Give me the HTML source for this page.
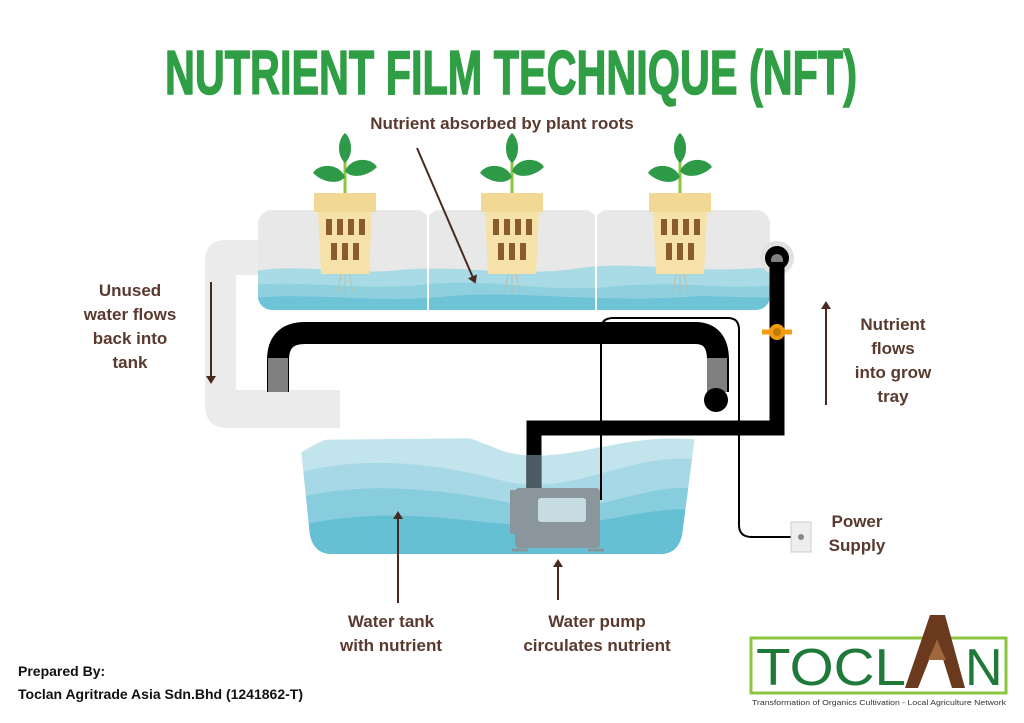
<!DOCTYPE html>
<html><head><meta charset="utf-8"><style>
html,body{margin:0;padding:0;background:#fff;width:1024px;height:723px;overflow:hidden}
svg{display:block}
.t{font-family:"Liberation Sans",sans-serif;font-weight:bold;fill:#5a3a2e;font-size:17px}
</style></head><body>
<svg width="1024" height="723" viewBox="0 0 1024 723" xmlns="http://www.w3.org/2000/svg">
<defs>
<marker id="ah" markerWidth="8" markerHeight="10" refX="4" refY="5" orient="auto" markerUnits="userSpaceOnUse" viewBox="0 0 8 10"><path d="M0,0 L8,5 L0,10 Z" fill="#4a2a20"/></marker>
<g id="pot">
 <path d="M0,-40 L0,0" stroke="#8cc63f" stroke-width="3"/>
 <path d="M0,-16 C-6,-30 -26,-30 -32,-20 C-22,-10 -6,-8 0,-16Z" fill="#2e9a48"/>
 <path d="M0,-22 C6,-36 26,-36 32,-26 C22,-16 6,-14 0,-22Z" fill="#2e9a48"/>
 <path d="M0,-30 C-9,-38 -7,-54 0,-60 C7,-54 9,-38 0,-30Z" fill="#2e9a48"/>
 <path d="M-31,0 h62 v19 h-62z" fill="#f1d894"/>
 <path d="M-27,19 h54 l-3,62 h-48z" fill="#f6e2a8"/>
 <g fill="#8b5a2e">
  <rect x="-19" y="26" width="6" height="16"/><rect x="-8" y="26" width="6" height="16"/><rect x="3" y="26" width="6" height="16"/><rect x="14" y="26" width="6" height="16"/>
  <rect x="-14" y="50" width="6" height="17"/><rect x="-3" y="50" width="6" height="17"/><rect x="8" y="50" width="6" height="17"/>
 </g>
 <path d="M-4,81 l-3,18 M0,81 l0,20 M4,81 l4,18" stroke="#c8b48a" stroke-width="1" opacity=".7"/>
</g>
</defs>
<text x="511" y="94" text-anchor="middle" font-family="'Liberation Sans Narrow','Liberation Sans',sans-serif" font-weight="bold" font-size="62" fill="#2f9e44" stroke="#2f9e44" stroke-width="1.5" textLength="692" lengthAdjust="spacingAndGlyphs">NUTRIENT FILM TECHNIQUE (NFT)</text>
<text x="502" y="129" text-anchor="middle" class="t" font-size="17">Nutrient absorbed by plant roots</text>

<path d="M270,240 H225 Q205,240 205,262 V405 Q205,428 228,428 H340 V390 H236 V275 H270Z" fill="#ebebeb"/>
<g>
 <rect x="258" y="210" width="172" height="100" rx="14" fill="#e8e8e8"/>
 <rect x="426" y="210" width="172" height="100" rx="14" fill="#e8e8e8"/>
 <rect x="594" y="210" width="176" height="100" rx="14" fill="#e8e8e8"/>
 <clipPath id="trc"><rect x="258" y="210" width="512" height="100" rx="14"/></clipPath>
 <g clip-path="url(#trc)">
  <path d="M250,272 C300,262 340,276 400,270 C460,264 520,278 580,268 C640,260 700,276 780,266 V312 H250Z" fill="#a9dbe6"/>
  <path d="M250,285 C320,280 360,292 430,284 C500,278 540,294 620,286 C690,280 730,292 780,284 V312 H250Z" fill="#8fd0df"/>
  <path d="M250,298 C320,292 380,304 450,296 C520,290 600,304 700,296 L780,298 V312 H250Z" fill="#6fc3d6"/>
 </g>
 <path d="M428,210 V310 M596,210 V310" stroke="#fff" stroke-width="2"/>
</g>
<use href="#pot" x="345" y="193"/>
<use href="#pot" x="512" y="193"/>
<use href="#pot" x="680" y="193"/>
<line x1="417" y1="148" x2="474" y2="280" stroke="#4a2a20" stroke-width="2" marker-end="url(#ah)"/>

<clipPath id="tk"><path d="M300,440 L695,436 L682,535 Q678,554 660,554 H332 Q314,554 310,535Z"/></clipPath>
<g clip-path="url(#tk)">
 <path d="M290,460 C360,410 430,420 500,450 C560,470 620,430 700,440 V560 H290Z" fill="#c2e4ec"/>
 <path d="M290,475 C360,455 430,462 500,480 C570,500 630,450 700,460 V560 H290Z" fill="#a6d9e5"/>
 <path d="M290,500 C360,480 440,488 520,505 C600,520 650,478 700,490 V560 H290Z" fill="#87cddd"/>
 <path d="M290,528 C380,505 450,520 520,525 C600,530 640,505 700,510 V560 H290Z" fill="#66c0d4"/>
</g>

<path d="M278,392 V360 Q278,333 305,333 H695 Q718,333 718,360 V392" fill="none" stroke="#000" stroke-width="22"/>
<rect x="268" y="358" width="20" height="34" fill="#808080"/>
<rect x="707" y="358" width="20" height="34" fill="#808080"/>
<circle cx="716" cy="400" r="12" fill="#000"/>
<circle cx="777" cy="258" r="17" fill="#e2e2e2"/>
<circle cx="777" cy="258" r="12" fill="#000"/>
<circle cx="777" cy="260" r="6" fill="#808080"/>
<path d="M777,262 V428 H534 V495" fill="none" stroke="#000" stroke-width="15"/>
<path d="M762,332 H792" stroke="#f39c12" stroke-width="5"/>
<circle cx="777" cy="332" r="8" fill="#f39c12"/><circle cx="777" cy="332" r="4" fill="#c47a00"/>
<rect x="527" y="455" width="15" height="40" fill="#7f9aa3" opacity=".6"/>
<path d="M601,500 V330 Q601,318 613,318 H728 Q739,318 739,330 V525 Q739,537 752,537 H795" fill="none" stroke="#000" stroke-width="2"/>
<rect x="510" y="490" width="18" height="44" fill="#8a969c"/>
<rect x="515" y="488" width="85" height="60" rx="4" fill="#8a969c"/>
<rect x="538" y="498" width="48" height="24" rx="3" fill="#c7dce2"/>
<path d="M512,550 h16 M588,550 h16" stroke="#8a969c" stroke-width="3"/>
<rect x="791" y="522" width="20" height="30" fill="#eee" stroke="#ccc"/>
<circle cx="801" cy="537" r="3" fill="#888"/>

<line x1="211" y1="282" x2="211" y2="380" stroke="#4a2a20" stroke-width="2" marker-end="url(#ah)"/>
<line x1="826" y1="405" x2="826" y2="305" stroke="#4a2a20" stroke-width="2" marker-end="url(#ah)"/>
<line x1="398" y1="603" x2="398" y2="515" stroke="#4a2a20" stroke-width="2" marker-end="url(#ah)"/>
<line x1="558" y1="600" x2="558" y2="563" stroke="#4a2a20" stroke-width="2" marker-end="url(#ah)"/>

<g class="t" text-anchor="middle">
 <text x="130" y="296">Unused</text><text x="130" y="320">water flows</text><text x="130" y="344">back into</text><text x="130" y="368">tank</text>
 <text x="893" y="330">Nutrient</text><text x="893" y="354">flows</text><text x="893" y="378">into grow</text><text x="893" y="402">tray</text>
 <text x="857" y="527">Power</text><text x="857" y="551">Supply</text>
 <text x="391" y="627">Water tank</text><text x="391" y="651">with nutrient</text>
 <text x="597" y="627">Water pump</text><text x="597" y="651">circulates nutrient</text>
</g>
<g font-family="'Liberation Sans',sans-serif" font-weight="bold" font-size="14" fill="#111">
 <text x="18" y="676">Prepared By:</text>
 <text x="18" y="699">Toclan Agritrade Asia Sdn.Bhd (1241862-T)</text>
</g>
<rect x="751" y="638" width="255" height="55" fill="none" stroke="#8cc63f" stroke-width="3"/>
<text x="756" y="685" font-family="'Liberation Sans',sans-serif" font-size="52" fill="#1f7a3a" textLength="150" lengthAdjust="spacingAndGlyphs">TOCL</text>
<path d="M905,688 L930,615 H945 L965,688 H952 L937,640 L918,688Z" fill="#6b3a1e"/>
<path d="M928,660 L937,640 L946,660Z" fill="#a0673a"/>
<text x="965" y="685" font-family="'Liberation Sans',sans-serif" font-size="52" fill="#1f7a3a">N</text>
<text x="752" y="705" font-family="'Liberation Sans',sans-serif" font-size="7.5" fill="#333" textLength="254" lengthAdjust="spacingAndGlyphs">Transformation of Organics Cultivation - Local Agriculture Network</text>
</svg>
</body></html>
